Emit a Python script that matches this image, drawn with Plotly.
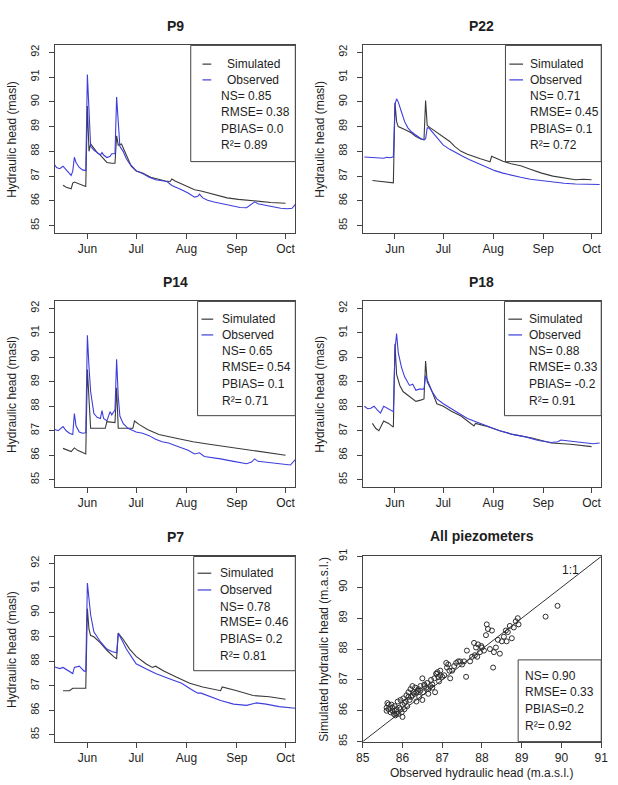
import plotly.graph_objects as go

W, H = 618, 785
YEAR = "2018"

# ---------------- data ----------------
months = ["Jun", "Jul", "Aug", "Sep", "Oct"]
month_starts = ["06-01", "07-01", "08-01", "09-01", "10-01"]
head_ticks = [85, 86, 87, 88, 89, 90, 91, 92]
scatter_ticks = [85, 86, 87, 88, 89, 90, 91]

# P9
p9_obs_d = ["05-12", "05-13", "05-15", "05-17", "05-19", "05-21", "05-22", "05-23", "05-24", "05-25", "05-27", "05-29", "05-31",
            "06-01", "06-02", "06-03", "06-05", "06-07", "06-09", "06-10", "06-11", "06-13", "06-15", "06-16", "06-18",
            "06-19", "06-20", "06-21", "06-23", "06-25", "06-27", "06-29", "07-01", "07-05", "07-09", "07-13", "07-17",
            "07-20", "07-23", "07-26", "07-29", "08-02", "08-06", "08-08", "08-09", "08-11", "08-14", "08-18", "08-22",
            "08-26", "08-30", "09-03", "09-07", "09-10", "09-12", "09-14", "09-17", "09-20", "09-24", "09-28", "10-02",
            "10-05", "10-07"]
p9_obs_v = [87.45, 87.35, 87.3, 87.4, 87.25, 87.1, 87.03, 87.2, 87.76, 87.55, 87.35, 87.25, 87.22,
            91.1, 89.4, 88.2, 88.05, 87.95, 87.85, 87.95, 87.85, 87.75, 87.8, 87.9, 87.9,
            90.2, 88.9, 88.2, 88.0, 87.7, 87.5, 87.35, 87.22, 87.1, 86.95, 86.85, 86.8,
            86.78, 86.62, 86.55, 86.45, 86.32, 86.15, 86.18, 86.27, 86.12, 86.02, 85.95, 85.9,
            85.82, 85.78, 85.73, 85.72, 85.85, 85.96, 85.88, 85.85, 85.82, 85.75, 85.7, 85.68,
            85.7, 85.86]
p9_sim_d = ["05-17", "05-19", "05-22", "05-23", "05-24", "05-27", "05-29", "05-31", "06-01", "06-02", "06-03", "06-05",
            "06-07", "06-09", "06-11", "06-13", "06-16", "06-18", "06-19", "06-20", "06-22", "06-24", "06-26", "06-28",
            "07-01", "07-05", "07-10", "07-15", "07-19", "07-22", "07-23", "07-25", "07-29", "08-02", "08-06", "08-10",
            "08-14", "08-20", "08-26", "09-02", "09-09", "09-15", "09-22", "10-01"]
p9_sim_v = [86.63, 86.55, 86.49, 86.72, 86.76, 86.68, 86.62, 86.58, 89.83, 88.0, 88.3, 88.1,
            87.95, 87.85, 87.7, 87.55, 87.52, 87.52, 88.63, 88.25, 88.3, 88.0, 87.65, 87.4,
            87.2, 87.12, 86.95, 86.85, 86.8, 86.78, 86.88, 86.8, 86.68, 86.55, 86.45, 86.4,
            86.33, 86.2, 86.12, 86.06, 86.03, 85.98, 85.93, 85.9]

# P22
p22_obs_d = ["05-13", "05-16", "05-19", "05-22", "05-25", "05-27", "05-29", "05-31", "06-01", "06-02", "06-03", "06-05",
             "06-07", "06-09", "06-11", "06-13", "06-15", "06-17", "06-19", "06-20", "06-21", "06-22", "06-25", "06-28",
             "07-01", "07-05", "07-09", "07-13", "07-17", "07-21", "07-25", "07-29", "08-02", "08-07", "08-12", "08-18",
             "08-24", "08-31", "09-07", "09-14", "09-21", "09-28", "10-06"]
p22_obs_v = [87.77, 87.76, 87.73, 87.72, 87.72, 87.76, 87.74, 87.78, 89.9, 90.12, 90.0, 89.6,
             89.2, 88.95, 88.8, 88.7, 88.6, 88.52, 88.47, 88.5, 88.95, 88.95, 88.72, 88.48,
             88.25, 88.08, 87.93, 87.8, 87.67, 87.55, 87.43, 87.32, 87.22, 87.12, 87.03, 86.95,
             86.87, 86.81, 86.75, 86.71, 86.68, 86.67, 86.66]
p22_sim_d = ["05-18", "05-22", "05-26", "05-29", "05-31", "06-01", "06-02", "06-03", "06-05", "06-08", "06-11", "06-14",
             "06-17", "06-19", "06-20", "06-21", "06-23", "06-26", "06-29", "07-02", "07-05", "07-08", "07-12", "07-16",
             "07-20", "07-24", "07-28", "07-30", "07-31", "08-03", "08-07", "08-12", "08-18", "08-24", "08-31", "09-07",
             "09-14", "09-21", "09-26", "10-01"]
p22_sim_v = [86.82, 86.8, 86.77, 86.74, 86.73, 89.96, 89.2, 89.0, 88.95, 88.85, 88.75, 88.6,
             88.5, 88.47, 90.05, 89.05, 88.95, 88.82, 88.68, 88.55, 88.4, 88.2, 88.0, 87.88,
             87.78, 87.7, 87.62, 87.58, 87.8, 87.72, 87.6, 87.5, 87.42, 87.28, 87.12, 87.0,
             86.92, 86.85, 86.87, 86.85]

# P14
p14_obs_d = ["05-12", "05-14", "05-17", "05-19", "05-21", "05-23", "05-24", "05-25", "05-27", "05-29", "05-31", "06-01",
             "06-02", "06-03", "06-05", "06-07", "06-09", "06-10", "06-11", "06-13", "06-15", "06-16", "06-18", "06-19",
             "06-20", "06-21", "06-23", "06-26", "07-01", "07-05", "07-09", "07-13", "07-17", "07-21", "07-25", "07-29",
             "08-02", "08-06", "08-09", "08-12", "08-18", "08-22", "08-30", "09-07", "09-10", "09-12", "09-14", "09-20",
             "09-27", "10-04", "10-07"]
p14_obs_v = [87.05, 87.0, 87.17, 87.0, 86.9, 86.85, 87.7, 87.2, 86.95, 86.9, 86.92, 90.9,
             89.6, 88.6, 87.7, 87.55, 87.5, 87.82, 87.5, 87.4, 87.78, 87.65, 87.85, 89.92,
             88.4, 87.6, 87.3, 87.1, 86.95, 86.9, 86.8, 86.65, 86.55, 86.5, 86.4, 86.3,
             86.2, 86.05, 86.1, 85.95, 85.9, 85.85, 85.75, 85.65, 85.72, 85.85, 85.75, 85.7,
             85.63, 85.6, 85.82]
p14_sim_d = ["05-17", "05-20", "05-22", "05-24", "05-26", "05-31", "06-01", "06-03", "06-08", "06-12", "06-13", "06-16",
             "06-18", "06-19", "06-20", "06-24", "06-29", "06-30", "07-03", "07-08", "07-15", "07-25", "08-05", "08-15",
             "08-25", "09-04", "09-14", "09-22", "10-01"]
p14_sim_v = [86.28, 86.2, 86.15, 86.3, 86.2, 86.05, 89.5, 87.1, 87.1, 87.1, 87.37, 87.35,
             87.33, 88.75, 87.1, 87.1, 87.1, 87.4, 87.25, 87.05, 86.85, 86.7, 86.55, 86.45,
             86.35, 86.25, 86.15, 86.07, 86.0]

# P18
p18_obs_d = ["05-13", "05-15", "05-17", "05-19", "05-21", "05-23", "05-25", "05-27", "05-29", "05-31", "06-01", "06-02",
             "06-03", "06-05", "06-07", "06-09", "06-10", "06-12", "06-14", "06-16", "06-19", "06-20", "06-22", "06-24",
             "06-27", "07-01", "07-06", "07-11", "07-16", "07-22", "07-28", "08-05", "08-13", "08-21", "08-29", "09-06",
             "09-10", "09-12", "09-17", "09-25", "10-02", "10-06"]
p18_obs_v = [88.0, 87.9, 87.92, 88.0, 87.85, 87.72, 88.0, 87.92, 87.85, 87.78, 90.3, 90.97,
             90.2, 89.6, 89.2, 88.95, 88.85, 88.9, 88.65, 88.7, 88.7, 89.25, 88.9, 88.6,
             88.3, 88.1, 87.9, 87.7, 87.5, 87.35, 87.2, 87.0, 86.85, 86.75, 86.6, 86.52,
             86.55, 86.62, 86.58, 86.52, 86.47, 86.5]
p18_sim_d = ["05-18", "05-20", "05-22", "05-25", "05-28", "05-31", "06-01", "06-02", "06-04", "06-06", "06-10", "06-14",
             "06-17", "06-19", "06-20", "06-21", "06-24", "06-27", "07-01", "07-06", "07-12", "07-20", "07-21", "07-27",
             "08-05", "08-13", "08-25", "09-06", "09-18", "10-01"]
p18_sim_v = [87.3, 87.1, 87.0, 87.4, 87.3, 87.15, 90.55, 89.3, 88.85, 88.6, 88.4, 88.2,
             88.25, 88.3, 89.85, 89.0, 88.6, 88.1, 88.0, 87.8, 87.6, 87.2, 87.3, 87.2,
             87.0, 86.85, 86.7, 86.5, 86.45, 86.35]

# P7
p7_obs_d = ["05-12", "05-15", "05-17", "05-21", "05-23", "05-24", "05-27", "05-30", "05-31", "06-01", "06-02", "06-03",
            "06-05", "06-09", "06-13", "06-16", "06-19", "06-20", "06-22", "06-25", "06-29", "07-01", "07-07", "07-13",
            "07-21", "07-29", "08-04", "08-08", "08-10", "08-16", "08-22", "08-30", "09-07", "09-13", "09-19", "09-27",
            "10-07"]
p7_obs_v = [87.77, 87.7, 87.75, 87.6, 87.5, 87.75, 87.8, 87.6, 87.6, 91.2, 90.4, 89.9,
            89.2, 88.8, 88.5, 88.4, 88.35, 89.15, 88.9, 88.5, 88.1, 87.9, 87.7, 87.5,
            87.3, 87.1, 86.85, 86.7, 86.7, 86.55, 86.4, 86.25, 86.2, 86.3, 86.25, 86.15,
            86.08]
p7_sim_d = ["05-17", "05-21", "05-23", "05-31", "06-01", "06-02", "06-03", "06-05", "06-09", "06-13", "06-17", "06-19",
            "06-20", "06-23", "06-27", "07-01", "07-07", "07-11", "07-13", "07-18", "07-26", "08-03", "08-11", "08-19",
            "08-22", "08-23", "09-01", "09-11", "09-21", "10-01"]
p7_sim_v = [86.8, 86.8, 86.9, 86.9, 90.15, 89.3, 89.05, 89.0, 88.75, 88.45, 88.2, 88.1,
            89.15, 88.9, 88.5, 88.2, 87.9, 87.75, 87.8, 87.6, 87.35, 87.1, 86.95, 86.85,
            86.8, 86.95, 86.8, 86.6, 86.55, 86.45]

# All piezometers: observed vs simulated
all_obs = [85.6, 85.6, 85.62, 85.65, 85.7, 85.72, 85.75, 85.78, 85.8, 85.8, 85.82, 85.85, 85.88, 85.9, 85.92,
           85.95, 85.98, 86.0, 86.0, 86.02, 86.05, 86.08, 86.1, 86.12, 86.15, 86.18, 86.2, 86.22, 86.25, 86.28,
           86.3, 86.32, 86.35, 86.38, 86.4, 86.42, 86.45, 86.5, 86.5, 86.52, 86.55, 86.6, 86.62, 86.65, 86.7,
           86.72, 86.75, 86.8, 86.82, 86.85, 86.88, 86.9, 86.92, 86.95, 87.0, 87.05, 87.1, 87.12, 87.15, 87.18,
           87.2, 87.25, 87.3, 87.35, 87.4, 87.45, 87.5, 87.55, 87.6, 87.62, 87.7, 87.75, 87.8, 87.82, 87.85,
           87.88, 87.9, 87.95, 87.98, 88.0, 88.05, 88.1, 88.12, 88.15, 88.2, 88.25, 88.28, 88.3, 88.35, 88.4,
           88.45, 88.5, 88.55, 88.6, 88.62, 88.65, 88.7, 88.75, 88.8, 88.85, 88.9, 88.92, 89.6, 89.9,
           85.65, 85.75, 85.85, 85.95, 86.05, 86.15, 86.25, 86.35, 86.45, 86.55, 86.65, 86.75, 86.85, 86.95]
all_sim = [86.0, 86.1, 86.25, 86.05, 85.95, 86.2, 86.1, 85.9, 86.0, 86.15, 85.85, 86.05, 86.3, 85.9, 86.1,
           86.35, 85.95, 85.8, 86.2, 86.4, 86.05, 86.3, 86.5, 86.15, 86.6, 86.35, 86.7, 86.45, 86.8, 86.6,
           86.55, 86.75, 86.3, 86.65, 86.7, 86.45, 86.8, 86.35, 87.05, 86.6, 86.85, 86.75, 86.9, 86.55, 86.8,
           87.0, 86.75, 87.05, 86.6, 87.2, 87.25, 87.1, 86.95, 87.3, 87.1, 87.15, 87.55, 87.4, 87.5, 87.3,
           87.05, 87.3, 87.45, 87.55, 87.6, 87.6, 87.5, 87.6, 87.1, 87.95, 87.6, 87.75, 88.2, 87.8, 88.05,
           87.75, 88.15, 87.9, 88.1, 88.05, 87.95, 88.45, 88.8, 88.65, 88.0, 88.6, 87.4, 87.9, 88.05, 88.3,
           87.85, 88.25, 88.4, 88.6, 88.25, 88.55, 88.75, 88.35, 88.7, 88.9, 89.0, 88.8, 89.05, 89.4,
           86.2, 86.0, 85.9, 86.05, 86.25, 86.45, 86.5, 86.6, 86.65, 86.8, 86.7, 86.85, 87.2, 87.15]
one_to_one = [85, 91]

stats = {
    "P9": ["NS= 0.85", "RMSE= 0.38", "PBIAS= 0.0", "R²= 0.89"],
    "P22": ["NS= 0.71", "RMSE= 0.45", "PBIAS= 0.1", "R²= 0.72"],
    "P14": ["NS= 0.65", "RMSE= 0.54", "PBIAS= 0.1", "R²= 0.71"],
    "P18": ["NS= 0.88", "RMSE= 0.33", "PBIAS= -0.2", "R²= 0.91"],
    "P7": ["NS= 0.78", "RMSE= 0.46", "PBIAS= 0.2", "R²= 0.81"],
    "All": ["NS= 0.90", "RMSE= 0.33", "PBIAS=0.2", "R²= 0.92"],
}

# ---------------- styling / layout ----------------
FONT = "Liberation Sans, Arial, sans-serif"
FRAME = "#444444"
TXT = "#1e1e1e"
SIM_C = "#3a3a3a"
OBS_C = "#3d3ddc"

cols = [(49, 295), (364, 608)]
rows = [(38, 228), (298, 486), (557, 745)]


def px(x):
    return x / W


def py(y):
    return 1 - y / H


def dates(lst):
    return [f"{YEAR}-{d}" for d in lst]


# (title, row, col, obs dates, obs vals, sim dates, sim vals, legend geometry)
ts_panels = [
    ("P9", 0, 0, p9_obs_d, p9_obs_v, p9_sim_d, p9_sim_v,
     dict(box_left=188, lx=(200, 209), tl=223, ts=217, offs=(19, 35, 51, 68, 85, 101), bh=118)),
    ("P22", 0, 1, p22_obs_d, p22_obs_v, p22_sim_d, p22_sim_v,
     dict(box_left=510, lx=(514, 528), tl=533, ts=533, offs=(19, 35, 51, 68, 85, 101), bh=118)),
    ("P14", 1, 0, p14_obs_d, p14_obs_v, p14_sim_d, p14_sim_v,
     dict(box_left=195, lx=(199, 211), tl=218, ts=218, offs=(18, 34, 50, 67, 84, 101), bh=116)),
    ("P18", 1, 1, p18_obs_d, p18_obs_v, p18_sim_d, p18_sim_v,
     dict(box_left=509, lx=(513, 527), tl=532, ts=532, offs=(18, 34, 50, 67, 84, 101), bh=116)),
    ("P7", 2, 0, p7_obs_d, p7_obs_v, p7_sim_d, p7_sim_v,
     dict(box_left=191, lx=(195, 209), tl=216, ts=216, offs=(17, 34, 51, 67, 84, 101), bh=116)),
]

fig = go.Figure()
layout = dict(
    width=W, height=H, margin=dict(l=0, r=0, t=0, b=0),
    paper_bgcolor="white", plot_bgcolor="white", showlegend=False,
    font=dict(family=FONT, color=TXT, size=12),
)
annotations = []
shapes = []

axis_common = dict(showline=True, linecolor=FRAME, linewidth=1, mirror=True, ticks="outside",
                   ticklen=5, tickcolor=FRAME, tickwidth=1, showgrid=False, zeroline=False)


def add_text(x, y, text, size=12, bold=False, xanchor="left", angle=0):
    annotations.append(dict(
        x=px(x), y=py(y), xref="paper", yref="paper", text=f"<b>{text}</b>" if bold else text,
        showarrow=False, xanchor=xanchor, yanchor="middle", textangle=angle,
        font=dict(family=FONT, size=size, color=TXT),
    ))


for k, (title, r, c, od, ov, sd, sv, lg) in enumerate(ts_panels, start=1):
    ax = "" if k == 1 else str(k)
    x0, x1 = cols[c]
    y0, y1 = rows[r]
    fig.add_trace(go.Scatter(x=dates(sd), y=sv, mode="lines", line=dict(color=SIM_C, width=1.1),
                             xaxis="x" + ax, yaxis="y" + ax, hoverinfo="skip"))
    fig.add_trace(go.Scatter(x=dates(od), y=ov, mode="lines", line=dict(color=OBS_C, width=1.1),
                             xaxis="x" + ax, yaxis="y" + ax, hoverinfo="skip"))
    layout["xaxis" + ax] = dict(
        axis_common, domain=[px(x0), px(x1)], anchor="y" + ax, type="date",
        range=[f"{YEAR}-05-12", f"{YEAR}-10-07"], tickmode="array",
        tickvals=dates(month_starts), ticktext=months,
        tickfont=dict(size=12, color=TXT, family=FONT),
    )
    layout["yaxis" + ax] = dict(
        axis_common, domain=[py(y1), py(y0)], anchor="x" + ax, range=[84.72, 92.28],
        tickmode="array", tickvals=head_ticks, ticktext=[str(v) for v in head_ticks],
        tickangle=-90, ticklabelstandoff=5, tickfont=dict(size=11, color=TXT, family=FONT),
    )
    # title and y axis title
    add_text((x0 + x1) / 2, y0 - 20, title, size=14, bold=True, xanchor="center")
    add_text(x0 - 44, (y0 + y1) / 2, "Hydraulic head (masl)", size=12, xanchor="center", angle=-90)
    # legend box
    shapes.append(dict(type="rect", xref="paper", yref="paper", x0=px(lg["box_left"]), x1=px(x1),
                       y0=py(y0 + lg["bh"]), y1=py(y0), line=dict(color=FRAME, width=1),
                       fillcolor="white", layer="above"))
    offs = lg["offs"]
    for i, (lab, col) in enumerate([("Simulated", SIM_C), ("Observed", OBS_C)]):
        shapes.append(dict(type="line", xref="paper", yref="paper", x0=px(lg["lx"][0]), x1=px(lg["lx"][1]),
                           y0=py(y0 + offs[i]), y1=py(y0 + offs[i]), line=dict(color=col, width=1.2),
                           layer="above"))
        add_text(lg["tl"], y0 + offs[i], lab)
    for i, s in enumerate(stats[title]):
        add_text(lg["ts"], y0 + offs[i + 2], s)

# ---- scatter panel ----
x0, x1 = cols[1]
y0, y1 = rows[2]
fig.add_trace(go.Scatter(x=one_to_one, y=one_to_one, mode="lines", line=dict(color="#333333", width=1),
                         xaxis="x6", yaxis="y6", hoverinfo="skip"))
fig.add_trace(go.Scatter(x=all_obs, y=all_sim, mode="markers",
                         marker=dict(symbol="circle-open", size=5, color="#2e2e2e", line=dict(width=1)),
                         xaxis="x6", yaxis="y6", hoverinfo="skip"))
layout["xaxis6"] = dict(axis_common, domain=[px(x0), px(x1)], anchor="y6", range=[85, 91],
                        tickmode="array", tickvals=scatter_ticks,
                        tickfont=dict(size=12, color=TXT, family=FONT))
layout["yaxis6"] = dict(axis_common, domain=[py(y1), py(y0)], anchor="x6", range=[85, 91],
                        tickmode="array", tickvals=scatter_ticks, tickangle=-90, ticklabelstandoff=5,
                        tickfont=dict(size=11, color=TXT, family=FONT))
add_text((x0 + x1) / 2, y0 - 21, "All piezometers", size=14, bold=True, xanchor="center")
add_text(x0 - 40, (y0 + y1) / 2, "Simulated hydraulic head (m.a.s.l.)", size=12, xanchor="center", angle=-90)
add_text((x0 + x1) / 2, 777, "Observed hydraulic head (m.a.s.l.)", size=12, xanchor="center")
annotations.append(dict(x=90.22, y=90.55, xref="x6", yref="y6", text="1:1", showarrow=False,
                        font=dict(family=FONT, size=12, color=TXT)))
shapes.append(dict(type="rect", xref="paper", yref="paper", x0=px(523), x1=px(x1),
                   y0=py(y1), y1=py(662), line=dict(color=FRAME, width=1), fillcolor="white", layer="above"))
for i, s in enumerate(stats["All"]):
    add_text(528, 678 + i * 17, s)

layout["annotations"] = annotations
layout["shapes"] = shapes
fig.update_layout(**layout)
fig.write_html("out.html")
